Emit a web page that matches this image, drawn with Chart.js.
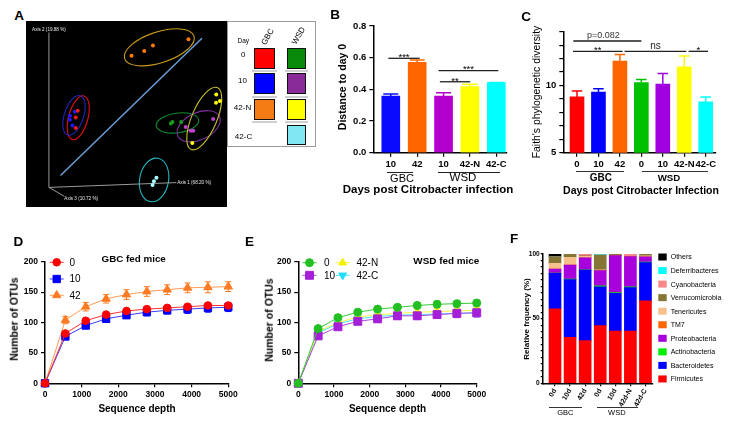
<!DOCTYPE html>
<html><head><meta charset="utf-8">
<script src="https://cdn.jsdelivr.net/npm/chart.js@4.4.1/dist/chart.umd.min.js"></script>
<style>
html,body{margin:0;padding:0;background:#fff;}
#wrap{position:relative;width:750px;height:426px;overflow:hidden;font-family:"Liberation Sans",Arial,Helvetica,sans-serif;color:#000;}
canvas{position:absolute;display:block;}
.t{position:absolute;white-space:nowrap;line-height:1;transform:translate(-50%,-50%);}
.b{font-weight:bold;}
.r{transform:translate(-50%,-50%) rotate(-90deg);}
.r60{transform:translate(-50%,-50%) rotate(-60deg);}
.pl{font-weight:bold;font-size:13.5px;}
.hl{position:absolute;height:0;}
.sw{position:absolute;box-sizing:border-box;border:1.5px solid #111;height:20.7px;}
.sep{position:absolute;height:2px;background:#cfcfcf;}
</style></head><body><div id="wrap">
<canvas id="cA" width="201" height="186" style="left:26px;top:21px;background:#000"></canvas>
<canvas id="cB" width="190" height="200" style="left:325px;top:0px"></canvas>
<canvas id="cC" width="235" height="200" style="left:515px;top:0px"></canvas>
<canvas id="cD" width="250" height="211" style="left:0px;top:215px"></canvas>
<canvas id="cE" width="265" height="211" style="left:250px;top:215px"></canvas>
<canvas id="cF" width="235" height="211" style="left:515px;top:215px"></canvas>

<!-- Panel letters -->
<div class="t pl" style="left:19px;top:16.2px">A</div>
<div class="t pl" style="left:335px;top:14.5px">B</div>
<div class="t pl" style="left:526px;top:16.7px">C</div>
<div class="t pl" style="left:18.3px;top:241.7px">D</div>
<div class="t pl" style="left:249.5px;top:241.7px">E</div>
<div class="t pl" style="left:514.2px;top:239.2px">F</div>

<!-- Panel A legend box -->
<div style="position:absolute;left:227px;top:20.5px;width:89px;height:126.5px;border:1px solid #9a9a9a;background:#fff;box-sizing:border-box"></div>
<div class="t" style="left:243.3px;top:41.2px;font-size:6.5px">Day</div>
<div class="t r60" style="left:267.5px;top:36.5px;font-size:8px">GBC</div>
<div class="t r60" style="left:299px;top:35.5px;font-size:8px">WSD</div>
<div class="t" style="left:243.3px;top:54.5px;font-size:8px">0</div>
<div class="t" style="left:242.5px;top:81px;font-size:8px">10</div>
<div class="t" style="left:242.5px;top:108px;font-size:8px">42-N</div>
<div class="t" style="left:243.5px;top:136.5px;font-size:8px">42-C</div>
<div class="sw" style="left:254px;top:48.3px;width:20.5px;background:#ff0000"></div>
<div class="sw" style="left:254px;top:73.3px;width:20.5px;background:#0000ff"></div>
<div class="sw" style="left:254px;top:99px;width:20.5px;background:#f57c14"></div>
<div class="sw" style="left:287px;top:48.3px;width:19px;background:#0a8a0a"></div>
<div class="sw" style="left:287px;top:73.3px;width:19px;background:#8a2b9a"></div>
<div class="sw" style="left:287px;top:99px;width:19px;background:#ffff00"></div>
<div class="sw" style="left:287px;top:124.5px;width:19px;background:#80e8f0"></div>
<div class="sep" style="left:252px;top:70.3px;width:25px"></div>
<div class="sep" style="left:285px;top:70.3px;width:23px"></div>
<div class="sep" style="left:252px;top:95.5px;width:25px"></div>
<div class="sep" style="left:285px;top:95.5px;width:23px"></div>
<div class="sep" style="left:252px;top:121px;width:25px"></div>
<div class="sep" style="left:285px;top:121px;width:23px"></div>

<!-- Panel B texts -->
<div class="t b r" style="left:341.7px;top:87px;font-size:10.5px">Distance to day 0</div>
<div class="hl" style="left:386.7px;top:172px;width:26.6px;border-top:1.3px solid #222"></div>
<div class="hl" style="left:438px;top:172px;width:62px;border-top:1.3px solid #222"></div>
<div class="t" style="left:402px;top:177.5px;font-size:11px">GBC</div>
<div class="t" style="left:463px;top:177.5px;font-size:11.5px">WSD</div>
<div class="t b" style="left:428px;top:190px;font-size:11.5px">Days post Citrobacter infection</div>

<!-- Panel C texts -->
<div class="t r" style="left:536.7px;top:91.5px;font-size:10.4px">Faith's phylogenetic diversity</div>
<div class="hl" style="left:576px;top:170.7px;width:48px;border-top:1.5px solid #333"></div>
<div class="hl" style="left:641.7px;top:170.7px;width:66.3px;border-top:1.5px solid #333"></div>
<div class="t b" style="left:600.8px;top:178px;font-size:10px">GBC</div>
<div class="t b" style="left:669px;top:178px;font-size:9.7px">WSD</div>
<div class="t b" style="left:641px;top:190px;font-size:10.5px">Days post Citrobacter Infection</div>

<!-- Panel D texts -->
<div class="t b r" style="left:14px;top:319.2px;font-size:10.5px">Number of OTUs</div>
<div class="t b" style="left:137px;top:409px;font-size:10px">Sequence depth</div>
<div class="t b" style="left:133.7px;top:259.3px;font-size:9.8px">GBC fed mice</div>

<!-- Panel E texts -->
<div class="t b r" style="left:269px;top:320px;font-size:10.5px">Number of OTUs</div>
<div class="t b" style="left:387.5px;top:409px;font-size:10px">Sequence depth</div>
<div class="t b" style="left:446.3px;top:260.7px;font-size:9.9px">WSD fed mice</div>

<!-- Panel F texts -->
<div class="t b r" style="left:527px;top:319px;font-size:8px">Relative frquency (%)</div>
<div class="hl" style="left:549.3px;top:407.3px;width:32.4px;border-top:1px solid #333"></div>
<div class="hl" style="left:597.3px;top:407.3px;width:41px;border-top:1px solid #333"></div>
<div class="t" style="left:565.3px;top:412.8px;font-size:7.5px">GBC</div>
<div class="t" style="left:616.8px;top:412.8px;font-size:7.5px">WSD</div>
</div>
<script>
// ---------------- DATA ----------------
// Panel A: PCoA (Axis 1 vs Axis 2 projection, arbitrary plot units)
const pcoaGBC0   = [[24.7,47.9],[23.7,44.4],[23.7,39.0]];
const pcoaGBC10  = [[23.2,47.4],[20.7,45.3],[20.7,43.3],[22.0,40.3]];
const pcoaGBC42  = [[52.6,76.5],[59.2,79.0],[63.7,81.9],[82.1,85.1]];
const pcoaWSD0   = [[73.0,41.3],[73.8,42.1],[78.3,42.1]];
const pcoaWSD10  = [[94.9,43.6],[80.7,39.5],[83.2,37.5],[84.6,37.5]];
const pcoaWSD42N = [[96.5,56.4],[98.4,53.0],[96.4,52.1],[84.1,31.2]];
const pcoaWSD42C = [[65.5,13.1],[64.2,11.3],[63.5,9.3]];
// confidence ellipses: [cx, cy, semi-major, semi-minor, angle deg]
const ellGBC0   = [25.0,44.3,11.7,5.0,75];
const ellGBC10  = [22.8,45.5,10.7,5.0,72];
const ellGBC42  = [67.0,80.9,18.9,8.0,18];
const ellWSD0   = [76.4,41.6,11.1,5.1,8];
const ellWSD10  = [87.4,39.9,11.9,7.0,25];
const ellWSD42N = [90.3,43.9,17.4,6.5,67];
const ellWSD42C = [64.3,12.0,11.4,7.5,80];
const pcoaOrigin = [9.8,8.1];
const pcoaAxis1End = [75.8,10.6];
const pcoaAxis2End = [9.8,88.6];
const pcoaAxis3End = [17.8,3.5];
const pcoaAxisLabels = ['Axis 1 (68.20 %)','Axis 2 (19.88 %)','Axis 3 (10.72 %)'];
const pcoaDiagonal = [[15.8,14.3],[89.1,85.6]];

// Panel B: distance to day 0
const distLabels = ['10','42','10','42-N','42-C'];
const distMeans  = [0.358,0.571,0.358,0.417,0.442];
const distErr    = [0.012,0.014,0.02,0.015,0.002];
const distSig    = [[0,1,0.596,'***'],[2,4,0.518,'***'],[2,3,0.448,'**']];

// Panel C: Faith's PD
const faithLabels = ['0','10','42','0','10','42-N','42-C'];
const faithMeans  = [9.15,9.5,11.82,10.22,10.1,11.38,8.78];
const faithErr    = [0.43,0.25,0.48,0.22,0.79,0.82,0.37];
const faithSig    = [[0,3,13.31,'p=0.082'],[0,2,12.54,'**'],[2,5,12.54,'ns'],[5,6,12.54,'*']];

// Panel D/E: rarefaction
const depth = [0,556,1111,1667,2222,2778,3333,3889,4444,5000];
const gbcDay0  = [0,82,103,113,119,122,124,126,128,128];
const gbcDay10 = [0,77,95,106,112,117,120,122,124,125];
const gbcDay42 = [0,104,126,139,146,151,154,157,158,159];
const gbcErr0  = [0,3,3,3,3,4,4,4,4,4];
const gbcErr10 = [0,4,4,5,5,6,6,7,7,7];
const gbcErr42 = [0,6,7,7,8,8,8,8,9,8];
const wsdDay0   = [0,90,108,117,122,125,128,130,131,132];
const wsdDay10  = [0,78,93,102,106,111,111,113,115,116];
const wsdDay42N = [0,85,100,109,113,115,117,118,119,120];
const wsdDay42C = [0,83,98,106,110,112,113,114,115,116];
const wsdErr0   = [0,3,4,4,4,4,5,5,5,5];
const wsdErr10  = [0,3,4,5,5,6,6,6,7,7];
const wsdErr42N = [0,3,4,4,5,5,5,5,5,5];
const wsdErr42C = [0,3,4,5,5,5,5,5,5,5];

// Panel F: phylum relative frequency (%)
const phylaLabels = ['0d','10d','42d','0d','10d','42d-N','42d-C'];
const firmicutes      = [57.5,35.6,33.0,44.6,40.4,40.4,63.7];
const bacteroidetes   = [27.5,44.6,54.6,30.1,29.2,33.6,29.6];
const actinobacteria  = [0.2,0.4,0.2,0.7,0.5,0.6,0.5];
const proteobacteria  = [3.2,10.8,9.2,11.8,28.6,23.4,4.0];
const tm7             = [0,0,0,0,0,0,0];
const tenericutes     = [4.4,6.0,1.2,0.5,0,0,0.8];
const verrucomicrobia = [5.1,2.6,0.3,11.5,1.3,0,1.4];
const cyanobacteria   = [0,0,1.2,0,0,2.0,0];
const deferribacteres = [0,0,0,0.8,0,0,0];
const others          = [2.1,0,0.3,0,0,0,0];

// ---------------- SETUP ----------------
const FONT = '"Liberation Sans", Arial, Helvetica, sans-serif';
Chart.defaults.font.family = FONT;
Chart.defaults.color = '#000';
Chart.defaults.animation = false;
Chart.defaults.events = [];
Chart.defaults.plugins.legend.display = false;
Chart.defaults.plugins.tooltip.enabled = false;

function fixW(w){ return s => { s.width = w; s.paddingTop = 0; s.paddingBottom = 0; }; }
function fixH(h){ return s => { s.height = h; s.paddingLeft = 0; s.paddingRight = 0; }; }
const gridTicks = (tl) => ({display:true, drawOnChartArea:false, drawTicks:true, tickLength:tl, color:'#000', lineWidth:1.2, offset:false});
const border = {display:true, color:'#000', width:1.5};

function xIndexAxis(labels, min, max, h, size, extra) {
  return Object.assign({
    type:'linear', min, max, offset:false, bounds:'data',
    afterBuildTicks: s => { s.ticks = labels.map((_, i) => ({value:i})); },
    ticks:{callback:(v)=> labels[v] !== undefined ? labels[v] : '', autoSkip:false, font:{size, weight:'bold'}, color:'#000', padding:2, maxRotation:0, minRotation:0},
    grid:gridTicks(4), border,
    afterFit: fixH(h)
  }, extra || {});
}
function yLin(min, max, step, w, fmt, size, tl, pad) {
  return {
    type:'linear', min, max, bounds:'data',
    ticks:{stepSize:step, callback:fmt, autoSkip:false, font:{size, weight:'bold'}, color:'#000', padding:pad===undefined?3:pad},
    grid:gridTicks(tl===undefined?4:tl), border,
    afterFit: fixW(w)
  };
}

// error bars plugin
const errorBars = {
  id:'errorBars',
  beforeDatasetsDraw(chart) {
    const ctx = chart.ctx;
    chart.data.datasets.forEach((ds, di) => {
      if (!ds.errors) return;
      const meta = chart.getDatasetMeta(di);
      const ys = chart.scales[meta.yAxisID];
      ctx.save();
      meta.data.forEach((el, i) => {
        const e = ds.errors[i]; if (!e) return;
        const raw = ds.data[i]; const val = (typeof raw === 'object') ? raw.y : raw;
        const x = el.x;
        const yTop = ys.getPixelForValue(val + e);
        const yBot = ds.errorBoth ? ys.getPixelForValue(val - e) : ys.getPixelForValue(val);
        ctx.strokeStyle = Array.isArray(ds.errorColor) ? ds.errorColor[i] : ds.errorColor;
        ctx.lineWidth = ds.errorWidth || 1;
        const cw = ds.capWidth / 2;
        ctx.beginPath();
        ctx.moveTo(x, yBot); ctx.lineTo(x, yTop);
        ctx.moveTo(x - cw, yTop); ctx.lineTo(x + cw, yTop);
        if (ds.errorBoth) { ctx.moveTo(x - cw, yBot); ctx.lineTo(x + cw, yBot); }
        ctx.stroke();
      });
      ctx.restore();
    });
  }
};

function brackets(items, offs, styles) {
  return { id:'brackets', afterDatasetsDraw(chart) {
    const xs = chart.scales.x, ys = chart.scales.y, ctx = chart.ctx;
    items.forEach((it, k) => {
      const [a, b, h, label] = it;
      const o = offs[k], st = styles[k];
      const x1 = xs.getPixelForValue(a) + o[0], x2 = xs.getPixelForValue(b) + o[1];
      const y = ys.getPixelForValue(h);
      ctx.save();
      ctx.strokeStyle = st.color; ctx.lineWidth = st.lw;
      ctx.beginPath(); ctx.moveTo(x1, y); ctx.lineTo(x2, y); ctx.stroke();
      ctx.fillStyle = st.tcolor || '#000'; ctx.font = st.font; ctx.textAlign = 'center'; ctx.textBaseline = 'alphabetic';
      ctx.fillText(label, (x1 + x2) / 2 + (st.dx || 0), y + st.dy);
      ctx.restore();
    });
  }};
}

// ---------------- PANEL A ----------------
(function(){
  const groups = [
    [pcoaGBC0,'#ff1a1a',ellGBC0,'#e01010'],
    [pcoaGBC10,'#1a1aff',ellGBC10,'#2424b8'],
    [pcoaGBC42,'#ff7a00',ellGBC42,'#c89a18'],
    [pcoaWSD0,'#1a9a1a',ellWSD0,'#108a30'],
    [pcoaWSD10,'#c040d0',ellWSD10,'#8030a0'],
    [pcoaWSD42N,'#ffff00',ellWSD42N,'#c8c028'],
    [pcoaWSD42C,'#a8ffff',ellWSD42C,'#20b8c0']
  ];
  const toXY = a => a.map(p => ({x:p[0], y:p[1]}));
  const datasets = groups.map(g => ({type:'scatter', data:toXY(g[0]), pointRadius:2, pointBackgroundColor:g[1], pointBorderWidth:0, showLine:false, clip:false}));
  const lineDs = (pts, color, w) => ({type:'scatter', data:toXY(pts), showLine:true, borderColor:color, borderWidth:w, pointRadius:0, clip:false});
  datasets.push(lineDs([pcoaOrigin, pcoaAxis1End], '#9a9a9a', 1));
  datasets.push(lineDs([pcoaOrigin, pcoaAxis2End], '#9a9a9a', 1));
  datasets.push(lineDs([pcoaOrigin, pcoaAxis3End], '#9a9a9a', 1));
  datasets.push(lineDs(pcoaDiagonal, '#6a9fd8', 1.5));
  const ellipses = {
    id:'ellipses',
    beforeDatasetsDraw(chart) {
      const xs = chart.scales.x, ys = chart.scales.y, ctx = chart.ctx;
      const ppu = xs.getPixelForValue(1) - xs.getPixelForValue(0);
      groups.forEach(g => {
        const e = g[2];
        ctx.save(); ctx.strokeStyle = g[3]; ctx.lineWidth = 1.1; ctx.beginPath();
        ctx.ellipse(xs.getPixelForValue(e[0]), ys.getPixelForValue(e[1]), e[2]*ppu, e[3]*ppu, -e[4]*Math.PI/180, 0, 2*Math.PI);
        ctx.stroke(); ctx.restore();
      });
    },
    afterDatasetsDraw(chart) {
      const xs = chart.scales.x, ys = chart.scales.y, ctx = chart.ctx;
      ctx.save(); ctx.fillStyle = '#e8e8e8'; ctx.font = '4.6px ' + FONT; ctx.textBaseline = 'middle';
      ctx.textAlign = 'left';
      ctx.fillText(pcoaAxisLabels[0], xs.getPixelForValue(pcoaAxis1End[0]) + 1, ys.getPixelForValue(pcoaAxis1End[1]));
      ctx.textAlign = 'center';
      ctx.fillText(pcoaAxisLabels[1], xs.getPixelForValue(pcoaAxis2End[0]), ys.getPixelForValue(pcoaAxis2End[1]) - 3);
      ctx.textAlign = 'left';
      ctx.fillText(pcoaAxisLabels[2], xs.getPixelForValue(pcoaAxis3End[0]), ys.getPixelForValue(pcoaAxis3End[1]) + 2.5);
      ctx.restore();
    }
  };
  new Chart(document.getElementById('cA'), {
    type:'scatter',
    data:{datasets},
    options:{responsive:false, devicePixelRatio:1, layout:{padding:0},
      scales:{x:{type:'linear', display:false, min:0, max:100}, y:{type:'linear', display:false, min:0, max:92.5}}},
    plugins:[ellipses]
  });
})();

// ---------------- PANEL B ----------------
(function(){
  const colors = ['#0a0aff','#ff6600','#b400cc','#ffff00','#00ffff'];
  const st = {color:'#222', lw:1.3, font:'9.5px ' + FONT, dy:1.8};
  new Chart(document.getElementById('cB'), {
    type:'bar',
    data:{datasets:[{data:distMeans.map((v,i)=>({x:i,y:v})), backgroundColor:colors, barThickness:18,
      errors:distErr, capWidth:15, errorColor:colors, errorWidth:1.5}]},
    options:{responsive:false, devicePixelRatio:1,
      layout:{padding:{left:0, top:26, right:8, bottom:0}},
      scales:{
        x:xIndexAxis(distLabels, -0.663, 4.405, 47.3, 9.5),
        y:yLin(0, 0.8, 0.2, 48.3, v => v.toFixed(1), 9.5)
      }},
    plugins:[errorBars, brackets(distSig, [[-2.5,2.5],[-5,2],[-3.7,0.3]], [st, st, st])]
  });
})();

// ---------------- PANEL C ----------------
(function(){
  const colors = ['#ff0000','#0000ff','#ff6600','#00c000','#a000e0','#ffff00','#00ffff'];
  const st = {color:'#222', lw:1.3, font:'9.5px ' + FONT, dy:1.8};
  const stP = {color:'#555', lw:2, font:'9px ' + FONT, dy:-3.2, tcolor:'#333', dx:-4};
  const stN = {color:'#222', lw:1.3, font:'10px ' + FONT, dy:-2.7, tcolor:'#222'};
  new Chart(document.getElementById('cC'), {
    type:'bar',
    data:{datasets:[{data:faithMeans.map((v,i)=>({x:i,y:v})), backgroundColor:colors, barThickness:14,
      errors:faithErr, capWidth:10.5, errorColor:colors, errorWidth:1.5}]},
    options:{responsive:false, devicePixelRatio:1,
      layout:{padding:{left:0, top:31.7, right:34, bottom:0}},
      scales:{
        x:xIndexAxis(faithLabels, -0.639, 6.48, 47.3, 9.5),
        y:yLin(5, 14, 1, 48.3, v => (v === 5 || v === 10) ? String(v) : '', 9.5)
      }},
    plugins:[errorBars, brackets(faithSig, [[-3.7,0],[-4,2.7],[4.7,2],[4.3,2.3]], [stP, st, stN, st])]
  });
})();

// ---------------- PANEL D & E ----------------
function lineDS(label, ys, errs, color, lineColor, style, radius, rot) {
  return { label, data: depth.map((x,i)=>({x, y:ys[i]})), errors:errs, errorBoth:true, capWidth:6,
    errorColor:color, errorWidth:1, borderColor:lineColor, borderWidth:1, pointStyle:style,
    pointRadius:radius, pointRotation:rot||0, pointBackgroundColor:color, pointBorderColor:color,
    pointBorderWidth:1, clip:false, tension:0, fill:false };
}
function lineLegend(items) {
  return { id:'lineLegend', afterDraw(chart) {
    const ctx = chart.ctx;
    items.forEach(it => {
      const ds = chart.data.datasets[it.i];
      ctx.save();
      ctx.strokeStyle = ds.borderColor; ctx.lineWidth = 1;
      ctx.beginPath(); ctx.moveTo(it.x - 7, it.y); ctx.lineTo(it.x + 7, it.y); ctx.stroke();
      ctx.fillStyle = ds.pointBackgroundColor; ctx.strokeStyle = ds.pointBorderColor;
      Chart.helpers.drawPoint(ctx, {pointStyle:ds.pointStyle, radius:ds.pointRadius, rotation:ds.pointRotation||0, borderWidth:1}, it.x, it.y);
      ctx.fillStyle = '#000'; ctx.font = '10px ' + FONT; ctx.textAlign = 'left'; ctx.textBaseline = 'middle';
      ctx.fillText(ds.label, it.tx, it.y + 0.5);
      ctx.restore();
    });
  }};
}
const depthAxis = (h) => ({type:'linear', min:0, max:5000, bounds:'data',
  ticks:{stepSize:1000, callback:v => String(v), autoSkip:false, font:{size:8.5, weight:'bold'}, color:'#000', padding:2, maxRotation:0},
  grid:gridTicks(4), border, afterFit:fixH(h)});

new Chart(document.getElementById('cD'), {
  type:'line',
  data:{datasets:[
    lineDS('0', gbcDay0, gbcErr0, '#ff0000', '#ff3030', 'circle', 3.8),
    lineDS('10', gbcDay10, gbcErr10, '#0000ff', '#3a3aff', 'rect', 5.2),
    lineDS('42', gbcDay42, gbcErr42, '#ff7a22', '#ff9a55', 'triangle', 4.8)
  ]},
  options:{responsive:false, devicePixelRatio:1,
    layout:{padding:{left:0, top:46.7, right:21.7, bottom:0}},
    scales:{ x:depthAxis(42.7), y:yLin(0, 200, 50, 45, v => String(v), 8.5) }},
  plugins:[errorBars, lineLegend([{i:0,x:56.7,y:47.3,tx:69.5},{i:1,x:56.7,y:64,tx:69.5},{i:2,x:56.7,y:80.3,tx:69.5}])]
});

new Chart(document.getElementById('cE'), {
  type:'line',
  data:{datasets:[
    lineDS('0', wsdDay0, wsdErr0, '#22c022', '#33cc33', 'circle', 4),
    lineDS('10', wsdDay10, wsdErr10, '#a51fd8', '#b040e0', 'rect', 5.6),
    lineDS('42-N', wsdDay42N, wsdErr42N, '#f2f200', '#f5f540', 'triangle', 4.5),
    lineDS('42-C', wsdDay42C, wsdErr42C, '#22ddff', '#44e4ff', 'triangle', 4.5, 180)
  ]},
  options:{responsive:false, devicePixelRatio:1,
    layout:{padding:{left:0, top:46.7, right:38.3, bottom:0}},
    scales:{ x:depthAxis(42.7), y:yLin(0, 200, 50, 48.3, v => String(v), 8.5) }},
  plugins:[errorBars, lineLegend([{i:0,x:59.5,y:47.7,tx:74},{i:1,x:59.5,y:60.3,tx:74},{i:2,x:92.7,y:47.7,tx:106.5},{i:3,x:92.7,y:60.3,tx:106.5}])]
});

// ---------------- PANEL F ----------------
(function(){
  const series = [
    ['Firmicutes', firmicutes, '#ff0000'],
    ['Bacteroidetes', bacteroidetes, '#0000ff'],
    ['Actinobacteria', actinobacteria, '#00ee00'],
    ['Proteobacteria', proteobacteria, '#a800dc'],
    ['TM7', tm7, '#ff6600'],
    ['Tenericutes', tenericutes, '#f5c08a'],
    ['Verrucomicrobia', verrucomicrobia, '#857636'],
    ['Cyanobacteria', cyanobacteria, '#f88888'],
    ['Deferribacteres', deferribacteres, '#00ffff'],
    ['Others', others, '#000000']
  ];
  const datasets = series.map(s => ({label:s[0], data:s[1].map((v,i)=>({x:i,y:v})), backgroundColor:s[2], barThickness:12, borderWidth:0}));
  const legend = { id:'fLegend', afterDraw(chart) {
    const ctx = chart.ctx, ds = chart.data.datasets;
    ctx.save();
    for (let k = 0; k < ds.length; k++) {
      const d = ds[ds.length - 1 - k];
      const y = 42 + k * 13.55;
      ctx.fillStyle = d.backgroundColor; ctx.fillRect(143.3, y - 3.5, 8.4, 7);
      ctx.fillStyle = '#000'; ctx.font = '7px ' + FONT; ctx.textAlign = 'left'; ctx.textBaseline = 'middle';
      ctx.fillText(d.label, 155.7, y + 0.5);
    }
    ctx.restore();
  }};
  const xAx = xIndexAxis(phylaLabels, -0.816, 6.5, 42.7, 7);
  xAx.stacked = true;
  xAx.ticks.maxRotation = 60; xAx.ticks.minRotation = 60; xAx.ticks.padding = 1;
  xAx.grid = gridTicks(3);
  const yAx = yLin(0, 100, 5, 27.7, v => (v % 50 === 0) ? String(v) : '', 6.5, 2, 1);
  yAx.stacked = true;
  new Chart(document.getElementById('cF'), {
    type:'bar',
    data:{datasets},
    options:{responsive:false, devicePixelRatio:1,
      layout:{padding:{left:0, top:39, right:97, bottom:0}},
      scales:{x:xAx, y:yAx}},
    plugins:[legend]
  });
})();
</script>
</body></html>
